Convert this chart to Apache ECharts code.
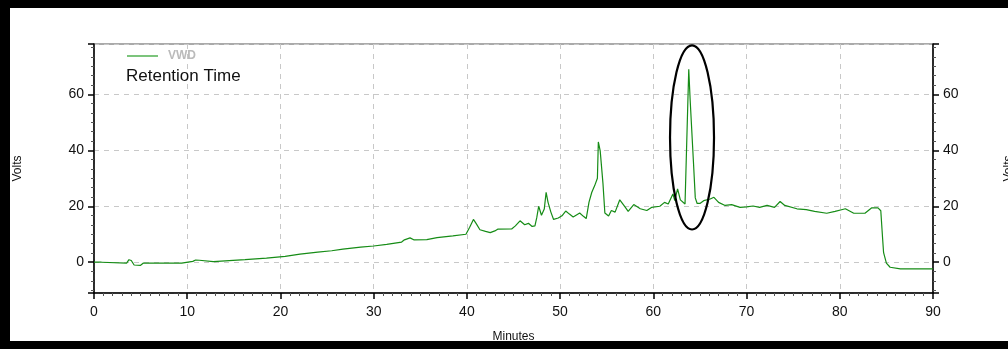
<!DOCTYPE html>
<html>
<head>
<meta charset="utf-8">
<script src="https://cdn.jsdelivr.net/npm/echarts@6/dist/echarts.min.js"></script>
<style>
    html, body { margin: 0; padding: 0; background: #fff; }
    #chart { width: 1008px; height: 349px; }
</style>
</head>
<body>
<div id="chart"></div>
<script>
// retention time in minutes / detector signal in volts
var minutes = [0, 0.8, 0.85, 3.5, 3.75, 4.0, 4.3, 5.0, 5.3, 9.4, 9.45, 10.6, 10.9, 11.3, 11.5, 12.8, 12.85, 16.2, 16.25, 18.5,
    18.55, 20.5, 20.55, 22.1, 22.15, 24.0, 24.05, 25.5, 25.55, 26.7, 26.75, 28.6, 28.65, 30.0, 30.05, 31.4, 31.45, 33.0, 33.3, 33.9,
    34.3, 35.7, 35.75, 36.8, 36.85, 38.5, 38.55, 39.9, 40.3, 40.7, 41.0, 41.4, 42.0, 42.5, 43.0, 43.3, 44.8, 45.2, 45.7, 46.2,
    46.6, 47.0, 47.3, 47.5, 47.7, 48.0, 48.3, 48.5, 48.7, 49.0, 49.3, 49.8, 50.2, 50.6, 51.0, 51.4, 51.8, 52.1, 52.5, 52.8,
    53.1, 53.4, 53.7, 54.0, 54.1, 54.3, 54.6, 54.8, 55.2, 55.5, 55.9, 56.4, 57.0, 57.3, 57.9, 58.6, 59.3, 59.8, 60.7, 61.2,
    61.6, 62.1, 62.3, 62.6, 62.9, 63.4, 63.6, 63.8, 63.95, 64.1, 64.3, 64.5, 64.7, 65.0, 65.4, 66.1, 66.5, 67.0, 67.7, 68.4,
    69.3, 70.0, 70.7, 71.4, 72.2, 73.0, 73.6, 74.1, 75.4, 76.4, 77.3, 78.6, 79.5, 80.6, 81.5, 82.7, 83.4, 84.1, 84.4, 84.6,
    84.7, 85.0, 85.4, 86.5, 90];
var volts = [0, 0, -0.3, -0.3, 0.9, 0.6, -1.0, -1.1, -0.3, -0.3, 0.2, 0.3, 0.8, 0.7, 0.2, 0.2, 0.9, 0.9, 1.5, 1.5,
    2.1, 2.1, 2.8, 2.9, 3.5, 3.6, 4.0, 4.1, 4.6, 4.7, 5.3, 5.4, 5.7, 5.8, 6.3, 6.4, 7.0, 7.2, 8.0, 8.7,
    8.0, 8.1, 8.7, 8.8, 9.3, 9.4, 9.9, 10.0, 12.5, 15.3, 13.8, 11.6, 11.0, 10.6, 11.2, 11.8, 11.9, 13.0, 14.8, 13.4,
    13.9, 12.8, 13.0, 16.0, 20.0, 16.8, 19.0, 25.0, 21.5, 18.0, 15.3, 15.8, 16.6, 18.3, 17.2, 16.2, 17.0, 17.6, 16.4, 15.6,
    21.5, 25.0, 27.3, 30.0, 43.0, 39.8, 28.0, 17.6, 16.5, 18.5, 17.9, 22.3, 19.6, 18.2, 20.6, 19.1, 18.5, 19.6, 20.0, 21.4,
    20.8, 24.4, 22.0, 26.2, 22.3, 20.8, 21.5, 69.0, 58.0, 57.5, 36.0, 23.0, 21.0, 21.0, 22.0, 22.6, 23.2, 21.4, 20.3, 20.6,
    19.6, 19.8, 20.1, 19.6, 20.3, 19.6, 21.7, 20.3, 19.1, 18.8, 18.2, 17.5, 18.2, 19.1, 17.5, 17.5, 19.4, 19.4, 18.4, 8.2,
    3.4, -0.3, -1.8, -2.4, -2.4];
var seriesName = 'VWD';
var chartTitle = 'Retention Time';
var xName = 'Minutes';
var yName = 'Volts';
// circled peak: centre and half-axes in data units
var markCenter = [64.15, 44.6];
var markHalf = [2.36, 32.9];

var fontFamily = '"Liberation Sans", Arial, sans-serif';
var lineData = [];
for (let i = 0; i < minutes.length; i++) {
    lineData.push([minutes[i], volts[i]]);
}

function yAxisOf(pos) {
    return {
        type: 'value',
        position: pos,
        min: -11,
        max: 78,
        minInterval: 20,
        maxInterval: 20,
        name: yName,
        nameLocation: 'middle',
        nameRotate: 90,
        nameGap: pos === 'left' ? 70 : 70,
        nameTextStyle: {color: '#111', fontSize: 12, fontFamily: fontFamily},
        axisLine: {show: true, onZero: false, lineStyle: {color: '#000', width: 1.5}},
        axisTick: {show: true, inside: false, length: 6, lineStyle: {color: '#000', width: 1.5}},
        minorTick: {show: true, splitNumber: 6, length: 3, lineStyle: {color: '#555', width: 1}},
        axisLabel: {
            color: '#111', fontSize: 14, fontFamily: fontFamily, margin: 10,
            showMinLabel: false, showMaxLabel: false
        },
        splitLine: {show: pos === 'left', lineStyle: {color: '#c8c8c8', type: [5, 5], width: 1}}
    };
}

var option = {
    animation: false,
    backgroundColor: '#fff',
    title: {
        text: chartTitle,
        left: 126,
        top: 68,
        padding: 0,
        textStyle: {color: '#111', fontSize: 17, fontWeight: 'normal', fontFamily: fontFamily}
    },
    legend: {
        left: 122,
        top: 45,
        itemWidth: 31,
        itemHeight: 2,
        itemGap: 6,
        data: [{name: seriesName, icon: 'rect', itemStyle: {color: '#7cc47c'}}],
        textStyle: {color: '#bbb', fontSize: 12, fontWeight: 'bold', fontFamily: fontFamily, padding: [0, 0, 0, 5]}
    },
    grid: {
        left: 94,
        right: 75,
        top: 44,
        bottom: 56,
        outerBoundsMode: 'none',
        containLabel: false,
        show: true,
        borderColor: '#555',
        borderWidth: 1
    },
    xAxis: {
        type: 'value',
        min: 0,
        max: 90,
        interval: 10,
        name: xName,
        nameLocation: 'middle',
        nameGap: 38,
        nameTextStyle: {color: '#111', fontSize: 12, fontFamily: fontFamily},
        axisLine: {show: true, onZero: false, lineStyle: {color: '#000', width: 1.5}},
        axisTick: {show: true, length: 6, lineStyle: {color: '#000', width: 1.5}},
        minorTick: {show: true, splitNumber: 10, length: 3, lineStyle: {color: '#555', width: 1}},
        axisLabel: {color: '#111', fontSize: 14, fontFamily: fontFamily, margin: 12},
        splitLine: {show: true, lineStyle: {color: '#c8c8c8', type: [5, 5], width: 1}}
    },
    yAxis: [yAxisOf('left'), yAxisOf('right')],
    series: [
        {
            name: seriesName,
            type: 'line',
            yAxisIndex: 0,
            data: lineData,
            showSymbol: false,
            symbol: 'none',
            lineStyle: {color: '#168c16', width: 1.2},
            itemStyle: {color: '#168c16'}
        }
    ]
};

var chart = echarts.init(document.getElementById('chart'), null, {renderer: 'canvas'});
chart.setOption(option);

// frame bars and the circle round the main peak
var c = chart.convertToPixel({gridIndex: 0}, markCenter);
var e = chart.convertToPixel({gridIndex: 0}, [markCenter[0] + markHalf[0], markCenter[1] + markHalf[1]]);
chart.setOption({
    graphic: [
        {
            type: 'ellipse',
            z: 100,
            shape: {cx: c[0], cy: c[1], rx: Math.abs(e[0] - c[0]), ry: Math.abs(c[1] - e[1])},
            style: {fill: 'none', stroke: '#000', lineWidth: 2.2}
        },
        {type: 'rect', z: 100, shape: {x: 0, y: 0, width: 1008, height: 8}, style: {fill: '#000'}},
        {type: 'rect', z: 100, shape: {x: 0, y: 0, width: 10, height: 349}, style: {fill: '#000'}},
        {type: 'rect', z: 100, shape: {x: 0, y: 341, width: 1008, height: 8}, style: {fill: '#000'}}
    ]
});
</script>
</body>
</html>
